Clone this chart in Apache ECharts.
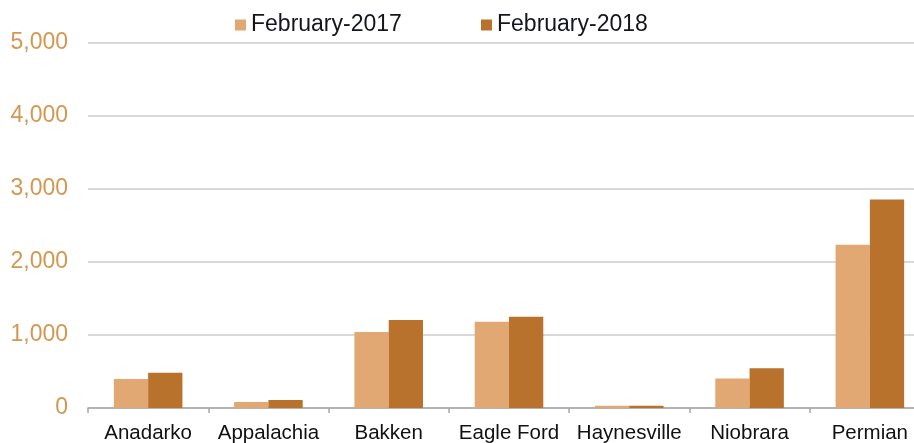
<!DOCTYPE html>
<html>
<head>
<meta charset="utf-8">
<script src="https://cdn.jsdelivr.net/npm/echarts@6/dist/echarts.min.js"></script>
<style>
  html, body { margin: 0; padding: 0; background: #fff; }
  #chart { width: 914px; height: 443px; }
</style>
</head>
<body>
<div id="chart"></div>
<script>
// Basins and rig counts
const basins = ['Anadarko', 'Appalachia', 'Bakken', 'Eagle Ford', 'Haynesville', 'Niobrara', 'Permian'];
const feb2017 = [396, 82, 1041, 1183, 30, 404, 2238];
const feb2018 = [482, 109, 1205, 1250, 30, 546, 2856];
const seriesNames = ['February-2017', 'February-2018'];
const yTicks = { min: 0, max: 5000, step: 1000 };

const colors = ['#E1A873', '#B9722C'];
const font = 'Arial, "Liberation Sans", sans-serif';

const legendText = { fontFamily: font, fontSize: 23, color: '#15151f', lineHeight: 24 };

const chart = echarts.init(document.getElementById('chart'));
chart.setOption({
  animation: false,
  backgroundColor: '#ffffff',
  legend: [
    {
      left: 235, top: 13, padding: 0, data: [seriesNames[0]],
      icon: 'rect', itemWidth: 11, itemHeight: 11, itemGap: 0,
      textStyle: legendText
    },
    {
      left: 481, top: 13, padding: 0, data: [seriesNames[1]],
      icon: 'rect', itemWidth: 11, itemHeight: 11, itemGap: 0,
      textStyle: legendText
    }
  ],
  // the last category runs past the right edge of the canvas
  grid: { left: 88, width: 842, top: 43, bottom: 35, containLabel: false, outerBoundsMode: 'none' },
  xAxis: {
    type: 'category',
    data: basins,
    axisLine: { lineStyle: { color: '#a6a6a6', width: 1.5 } },
    axisTick: { show: true, length: 5, lineStyle: { color: '#a6a6a6', width: 1.5 } },
    axisLabel: { interval: 0, fontFamily: font, fontSize: 20.5, color: '#111111', margin: 15 }
  },
  yAxis: {
    type: 'value',
    min: yTicks.min, max: yTicks.max, interval: yTicks.step,
    axisLine: { show: false },
    axisTick: { show: false },
    axisLabel: {
      fontFamily: font, fontSize: 23, color: '#D4974F', margin: 20,
      formatter: v => v.toLocaleString('en-US')
    },
    splitLine: { lineStyle: { color: '#d9d9d9', width: 2 } }
  },
  series: [
    {
      name: seriesNames[0], type: 'bar', data: feb2017,
      itemStyle: { color: colors[0] },
      barGap: '0%', barCategoryGap: '43%'
    },
    {
      name: seriesNames[1], type: 'bar', data: feb2018,
      itemStyle: { color: colors[1] },
      barGap: '0%', barCategoryGap: '43%'
    }
  ]
});
</script>
</body>
</html>
